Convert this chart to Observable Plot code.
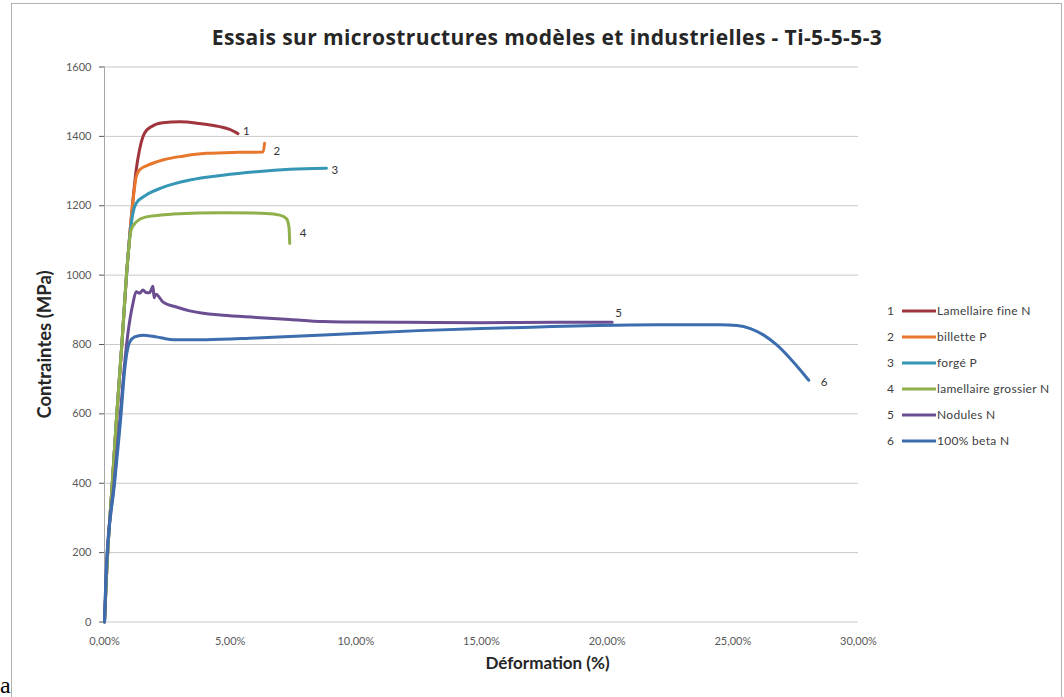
<!DOCTYPE html>
<html>
<head>
<meta charset="utf-8">
<script src="https://cdn.jsdelivr.net/npm/d3@7"></script>
<script src="https://cdn.jsdelivr.net/npm/@observablehq/plot@0.6"></script>
<style>
  html, body { margin:0; padding:0; background:#fff; }
  #wrap { position:relative; width:1064px; height:697px; overflow:hidden; font-family:Lato, "Open Sans", sans-serif; }
  #border { position:absolute; left:11px; top:3px; width:1051px; height:710px; border:1px solid #B0B0B0; box-sizing:border-box; }
  #title { position:absolute; top:24px; left:100px; width:894px; text-align:center; font-family:"Open Sans", sans-serif; font-size:21px; letter-spacing:0.4px; font-weight:bold; line-height:26px; color:#262626; white-space:nowrap; }
  #chart { position:absolute; left:0; top:50px; }
  #legend { position:absolute; left:884px; top:302px; font-size:12px; letter-spacing:0.3px; color:#404040; }
  .lg { position:absolute; left:0; height:18px; white-space:nowrap; }
  .lg .num { position:absolute; left:3px; top:0; font-size:12px; line-height:18px; }
  .lg svg { position:absolute; left:17px; top:0; }
  .lg .txt { position:absolute; left:53px; top:0; line-height:18px; }
  #corner { position:absolute; left:0px; top:672px; font-family:"Liberation Serif", serif; font-size:24px; color:#000; }
</style>
</head>
<body>
<div id="wrap">
  <div id="border"></div>
  <div id="title">Essais sur microstructures modèles et industrielles - Ti-5-5-5-3</div>
  <div id="chart"></div>
  <div id="legend"></div>
  <div id="corner">a</div>
</div>
<script>
// ---- data ----
const seriesIds   = ["1", "2", "3", "4", "5", "6"];
const seriesNames = ["Lamellaire fine N", "billette P", "forgé P", "lamellaire grossier N", "Nodules N", "100% beta N"];

const strain1 = [0, 0.09, 0.31, 0.49, 0.69, 0.89, 1.02, 1.15, 1.26, 1.39, 1.59, 1.86, 2.32, 2.99, 3.78, 4.58, 4.98, 5.31];
const stress1 = [0, 150, 400, 600, 800, 1014, 1130, 1230, 1303, 1360, 1409, 1428, 1439, 1442, 1437, 1428, 1420, 1408];

const strain2 = [0, 0.09, 0.31, 0.49, 0.69, 0.89, 1.02, 1.15, 1.26, 1.39, 1.73, 2.32, 3.12, 4.05, 5.38, 6.31, 6.37];
const stress2 = [0, 150, 400, 600, 800, 1014, 1130, 1225, 1283, 1303, 1317, 1332, 1343, 1351, 1354, 1355, 1380];

const strain3 = [0, 0.09, 0.31, 0.49, 0.69, 0.89, 1.02, 1.13, 1.26, 1.66, 2.32, 3.39, 4.71, 6.04, 7.37, 8.83];
const stress3 = [0, 150, 400, 600, 800, 1014, 1120, 1178, 1207, 1231, 1253, 1274, 1288, 1298, 1305, 1308];

const strain4 = [0, 0.09, 0.31, 0.49, 0.69, 0.89, 1.06, 1.26, 1.66, 2.72, 4.71, 6.44, 6.97, 7.24, 7.34, 7.37];
const stress4 = [0, 150, 400, 600, 800, 1014, 1130, 1153, 1168, 1176, 1180, 1178, 1173, 1163, 1139, 1091];

const strain5 = [0, 0.07, 0.38, 0.63, 0.82, 0.93, 1.13, 1.26, 1.4, 1.53, 1.65, 1.79, 1.93, 1.97, 2.05, 2.32, 2.86, 3.39, 4.71, 6.04, 7.37, 8.7, 9.76, 12, 15, 18, 20.2];
const stress5 = [0, 150, 400, 600, 760, 831, 918, 952, 948, 957, 950, 949, 968, 935, 945, 923, 908, 897, 884, 878, 872, 866, 865, 864, 863, 864, 864];

const strain6 = [0, 0.07, 0.4, 0.66, 0.8, 1.0, 1.2, 1.53, 2.06, 2.72, 4.05, 6.04, 8.04, 9.76, 12.5, 15, 17, 19.6, 22, 24.5, 25.17, 25.7, 26.23, 26.76, 27.29, 27.69, 28.02];
const stress6 = [0, 149, 400, 600, 725, 807, 822, 827, 822, 814, 814, 819, 825, 831, 840, 846, 850, 855, 857, 857, 855, 846, 827, 798, 759, 726, 697];

const xTicks = [0, 5, 10, 15, 20, 25, 30];
const yTicks = [0, 200, 400, 600, 800, 1000, 1200, 1400, 1600];
const xTitle = "Déformation (%)";
const yTitle = "Contraintes (MPa)";

// ---- styles ----
const colors = ["#A0353E", "#E8772E", "#3596B5", "#8FB04A", "#6B4E92", "#3C6DAE"];
const labelOffsets = [[5, -2], [9, 8], [5, 2], [10, -10], [3, -9], [12, 2]];

const strains = [strain1, strain2, strain3, strain4, strain5, strain6];
const stresses = [stress1, stress2, stress3, stress4, stress5, stress6];
const series = strains.map((xs, i) => xs.map((x, j) => ({x, y: stresses[i][j], id: seriesIds[i]})));

const fmtX = d => d.toFixed(2).replace(".", ",") + "%";
const fmtY = d => String(d);

const lineMarks = series.map((pts, i) =>
  Plot.line(pts, {x: "x", y: "y", stroke: colors[i], strokeWidth: 3, curve: "monotone-x", strokeLinejoin: "round", strokeLinecap: "round"}));
const labelMarks = series.map((pts, i) =>
  Plot.text([pts[pts.length - 1]], {x: "x", y: "y", text: "id", dx: labelOffsets[i][0], dy: labelOffsets[i][1], textAnchor: "start", fontSize: 11.5, fill: "#333"}));

const chart = Plot.plot({
  width: 1064,
  height: 640,
  marginTop: 16.5,
  marginBottom: 68.5,
  marginLeft: 104,
  marginRight: 206,
  style: {fontFamily: "Lato, 'Open Sans', sans-serif", background: "transparent"},
  x: {domain: [0, 30], label: null},
  y: {domain: [0, 1600], label: null},
  marks: [
    Plot.ruleY(yTicks, {stroke: "#C9C9C9", strokeWidth: 1}),
    Plot.ruleX([0], {stroke: "#A6A6A6", strokeWidth: 1}),
    Plot.axisX({ticks: xTicks, tickFormat: fmtX, tickSize: 0, tickPadding: 15, fontSize: 11, color: "#595959", label: null}),
    Plot.axisY({ticks: yTicks, tickFormat: fmtY, tickSize: 5, tickPadding: 8, fontSize: 11, color: "#595959", label: null}),
    ...lineMarks,
    ...labelMarks,
    Plot.text([xTitle], {text: d => d, frameAnchor: "bottom", textAnchor: "middle", lineAnchor: "middle", dx: 66, dy: 41.5, fontSize: 17, fontWeight: "bold", fill: "#262626"}),
    Plot.text([yTitle], {text: d => d, frameAnchor: "left", textAnchor: "middle", lineAnchor: "middle", rotate: -90, dx: -59, fontSize: 18.5, fontWeight: "bold", fill: "#262626"})
  ]
});
document.getElementById("chart").appendChild(chart);

// ---- legend ----
const legend = document.getElementById("legend");
const rowTops = [0, 26, 52, 78, 104, 130];
seriesIds.forEach((id, i) => {
  const row = document.createElement("div");
  row.className = "lg";
  row.style.top = rowTops[i] + "px";
  row.innerHTML = `<span class="num">${id}</span><svg width="36" height="18"><line x1="1" y1="9" x2="35" y2="9" stroke="${colors[i]}" stroke-width="3"/></svg><span class="txt">${seriesNames[i]}</span>`;
  legend.appendChild(row);
});
</script>
</body>
</html>
